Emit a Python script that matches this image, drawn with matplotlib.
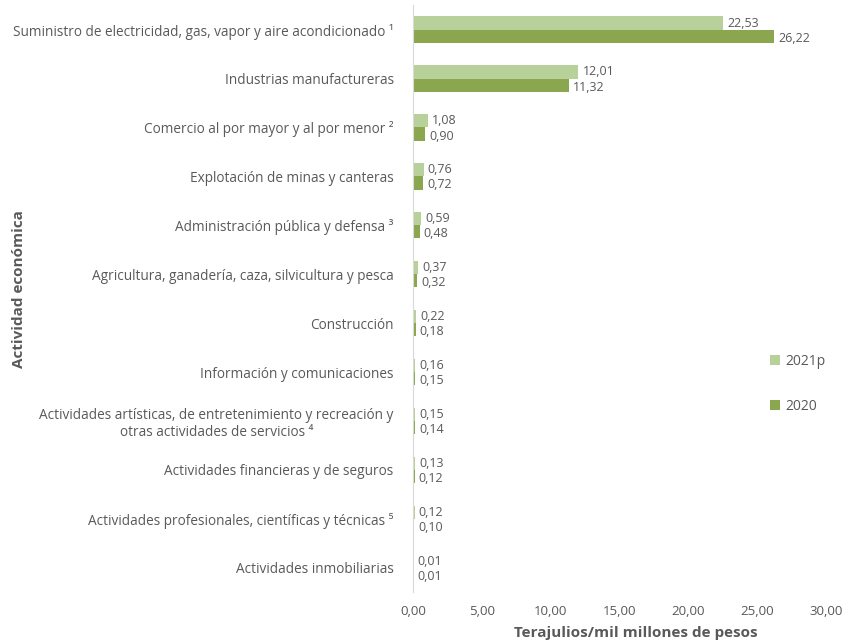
import matplotlib.pyplot as plt
import numpy as np

plt.rcParams['font.family'] = ['Open Sans', 'DejaVu Sans']

# actividades economicas (de arriba hacia abajo)
actividades = [
    'Suministro de electricidad, gas, vapor y aire acondicionado ¹',
    'Industrias manufactureras',
    'Comercio al por mayor y al por menor ²',
    'Explotación de minas y canteras',
    'Administración pública y defensa ³',
    'Agricultura, ganadería, caza, silvicultura y pesca',
    'Construcción',
    'Información y comunicaciones',
    'Actividades artísticas, de entretenimiento y recreación y\notras actividades de servicios ⁴',
    'Actividades financieras y de seguros',
    'Actividades profesionales, científicas y técnicas ⁵',
    'Actividades inmobiliarias',
]
valores_2021p = [22.53, 12.01, 1.08, 0.76, 0.59, 0.37, 0.22, 0.16, 0.15, 0.13, 0.12, 0.01]
valores_2020 = [26.22, 11.32, 0.90, 0.72, 0.48, 0.32, 0.18, 0.15, 0.14, 0.12, 0.10, 0.01]
xticks = [0, 5, 10, 15, 20, 25, 30]

c_2021 = '#b8d09a'
c_2020 = '#8aa64e'
gris = '#595959'

fig = plt.figure(figsize=(8.43, 6.43), dpi=100)
ax = fig.add_axes([0.49, 0.079, 0.49, 0.913])

y = np.arange(len(actividades))
h = 0.27
ax.barh(y - h / 2, valores_2021p, height=h, color=c_2021, label='2021p')
ax.barh(y + h / 2, valores_2020, height=h, color=c_2020, label='2020')

fmt = lambda v: f'{v:.2f}'.replace('.', ',')
for i in range(len(actividades)):
    ax.text(valores_2021p[i] + 0.3, y[i] - h / 2, fmt(valores_2021p[i]),
            va='center', ha='left', fontsize=9, color=gris)
    ax.text(valores_2020[i] + 0.3, y[i] + h / 2 + 0.04, fmt(valores_2020[i]),
            va='center', ha='left', fontsize=9, color=gris)

ax.set_ylim(len(actividades) - 0.5, -0.5)
ax.set_xlim(0, 30)
ax.set_yticks(y)
ax.set_yticklabels(actividades, fontsize=9.8, color=gris, ha='right', multialignment='center')
ax.set_xticks(xticks)
ax.set_xticklabels([fmt(t) for t in xticks], fontsize=9.5, color=gris)
ax.tick_params(length=0)
ax.tick_params(axis='y', pad=14)
ax.tick_params(axis='x', pad=9)

for s in ['top', 'right', 'bottom']:
    ax.spines[s].set_visible(False)
ax.spines['left'].set_color('#d9d9d9')

ax.set_xlabel('Terajulios/mil millones de pesos', fontsize=11, fontweight='bold',
              color=gris)
ax.xaxis.set_label_coords(0.54, -0.058)
fig.text(0.022, 0.55, 'Actividad económica', rotation=90, fontsize=11,
         fontweight='bold', color=gris, ha='center', va='center')

leg = ax.legend(loc='center left', bbox_to_anchor=(0.835, 0.355), frameon=False,
                fontsize=10, labelspacing=2.2, handlelength=0.7, handleheight=0.7,
                handletextpad=0.4, labelcolor=gris)

fig.savefig('out.png', dpi=100)
